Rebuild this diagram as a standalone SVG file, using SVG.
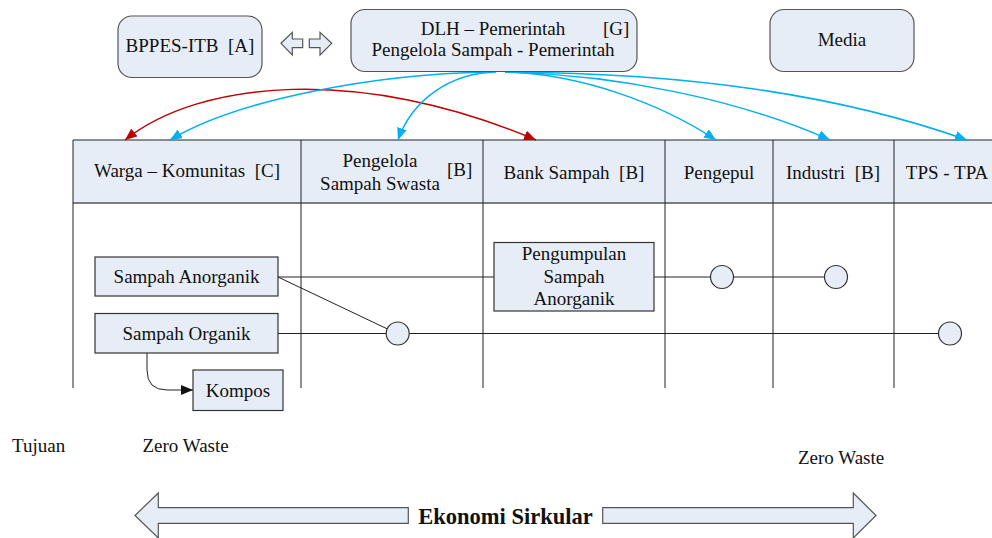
<svg xmlns="http://www.w3.org/2000/svg" width="992" height="538" viewBox="0 0 992 538">
<style>
text{font-family:"Liberation Serif","Times New Roman",serif;font-size:19px;fill:#111;white-space:pre;}
.c{text-anchor:middle;}
.box{fill:#e7edf7;stroke:#333;stroke-width:1.2;}
.rbox{fill:#e7edf7;stroke:#555;stroke-width:1.2;}
.ln{fill:none;stroke:#222;stroke-width:1;}
.blue{fill:none;stroke:#00b0f0;stroke-width:1.5;marker-end:url(#ab);}
.red{fill:none;stroke:#c00000;stroke-width:1.5;}
.hdr{fill:#e7edf7;}
.grid{stroke:#222;stroke-width:1;}
.circ{fill:#e7edf7;stroke:#333;stroke-width:1.2;}
</style>
<defs>
<marker id="ab" viewBox="0 0 12 10" refX="12" refY="5" markerWidth="12" markerHeight="10" markerUnits="userSpaceOnUse" orient="auto"><path d="M0,0 L12,5 L0,10 Z" fill="#00b0f0"/></marker>
<marker id="ar" viewBox="0 0 12 10" refX="12" refY="5" markerWidth="12" markerHeight="10" markerUnits="userSpaceOnUse" orient="auto"><path d="M0,0 L12,5 L0,10 Z" fill="#c00000"/></marker>
<marker id="ars" viewBox="0 0 12 10" refX="0" refY="5" markerWidth="12" markerHeight="10" markerUnits="userSpaceOnUse" orient="auto"><path d="M12,0 L0,5 L12,10 Z" fill="#c00000"/></marker>
<marker id="ak" viewBox="0 0 12 10" refX="12" refY="5" markerWidth="12" markerHeight="10" markerUnits="userSpaceOnUse" orient="auto"><path d="M0,0 L12,5 L0,10 Z" fill="#111"/></marker>
</defs>

<!-- swimlane table -->
<g id="table">
<rect class="hdr" x="73" y="140" width="919" height="63"/>
<line class="grid" x1="73" y1="140" x2="992" y2="140"/>
<line x1="73" y1="203" x2="992" y2="203" stroke="#555" stroke-width="1.5"/>
<line class="grid" x1="73" y1="140" x2="73" y2="388"/>
<line class="grid" x1="301" y1="140" x2="301" y2="388"/>
<line class="grid" x1="483" y1="140" x2="483" y2="388"/>
<line class="grid" x1="665" y1="140" x2="665" y2="388"/>
<line class="grid" x1="773" y1="140" x2="773" y2="388"/>
<line class="grid" x1="894" y1="140" x2="894" y2="388"/>
</g>
<g id="lane-warga"><text class="c" x="187" y="177" xml:space="preserve">Warga – Komunitas  [C]</text></g>
<g id="lane-swasta">
<text class="c" x="380" y="167">Pengelola</text>
<text class="c" x="380" y="190">Sampah Swasta</text>
<text x="447" y="176">[B]</text>
</g>
<g id="lane-bank"><text class="c" x="574" y="179" xml:space="preserve">Bank Sampah  [B]</text></g>
<g id="lane-pengepul"><text class="c" x="719" y="179">Pengepul</text></g>
<g id="lane-industri"><text class="c" x="833" y="179" xml:space="preserve">Industri  [B]</text></g>
<g id="lane-tps"><text class="c" x="947" y="179">TPS - TPA</text></g>

<!-- connectors -->
<g id="connectors">
<path class="red" d="M125,140 C200,80 360,65 536,140" marker-start="url(#ars)" marker-end="url(#ar)"/>
<path class="blue" d="M487,72 C380,74 240,98 170,140"/>
<path class="blue" d="M496,72 C450,73 412,100 398,140"/>
<path class="blue" d="M505,72 C580,74 660,103 716,140"/>
<path class="blue" d="M505,72 C620,75 740,100 830,140"/>
<path class="blue" d="M505,72 C690,73 840,95 967,140"/>
<line class="ln" x1="278" y1="277" x2="494" y2="277"/>
<line class="ln" x1="654" y1="277" x2="710.5" y2="277"/>
<line class="ln" x1="733.5" y1="277" x2="824.5" y2="277"/>
<line class="ln" x1="278" y1="277" x2="387.5" y2="329"/>
<line class="ln" x1="278" y1="333.5" x2="386" y2="333.5"/>
<line class="ln" x1="409.5" y1="333.5" x2="938.5" y2="333.5"/>
<path class="ln" d="M147,353 L147,370 Q147,390 167,390 L193,390" marker-end="url(#ak)"/>
</g>

<!-- top nodes -->
<g id="bppes">
<rect class="rbox" x="118" y="16" width="144" height="61.5" rx="14"/>
<text class="c" x="190" y="52" xml:space="preserve">BPPES-ITB  [A]</text>
</g>
<g id="bidir">
<path class="rbox" d="M281,43.3 L292.3,32.3 L292.3,39 L302.7,39 L302.7,47.7 L292.3,47.7 L292.3,55 Z"/>
<path class="rbox" d="M331.7,43.3 L320,32.3 L320,39 L309.3,39 L309.3,47.7 L320,47.7 L320,55 Z"/>
</g>
<g id="dlh">
<rect class="rbox" x="351" y="9.5" width="286" height="62" rx="14"/>
<text class="c" x="493" y="35">DLH – Pemerintah</text>
<text x="603" y="35">[G]</text>
<text class="c" x="493" y="56">Pengelola Sampah - Pemerintah</text>
</g>
<g id="media">
<rect class="rbox" x="770" y="9.5" width="144" height="62" rx="14"/>
<text class="c" x="842" y="46">Media</text>
</g>

<!-- body nodes -->
<g id="anorganik">
<rect class="box" x="95" y="257" width="183" height="39"/>
<text class="c" x="186.5" y="283">Sampah Anorganik</text>
</g>
<g id="organik">
<rect class="box" x="95" y="313.5" width="183" height="39.5"/>
<text class="c" x="186.5" y="340">Sampah Organik</text>
</g>
<g id="kompos">
<rect class="box" x="193" y="370" width="90" height="40.5"/>
<text class="c" x="238" y="397">Kompos</text>
</g>
<g id="pengumpulan">
<rect class="box" x="494" y="242.5" width="160" height="68.5"/>
<text class="c" x="574" y="259.5">Pengumpulan</text>
<text class="c" x="574" y="283">Sampah</text>
<text class="c" x="574" y="305">Anorganik</text>
</g>
<g id="circle-swasta"><circle class="circ" cx="397.7" cy="333.5" r="11.5"/></g>
<g id="circle-pengepul"><circle class="circ" cx="722" cy="277" r="11.5"/></g>
<g id="circle-industri"><circle class="circ" cx="836" cy="277" r="11.5"/></g>
<g id="circle-tps"><circle class="circ" cx="950" cy="333.5" r="11.5"/></g>

<!-- bottom labels -->
<g id="tujuan"><text x="12" y="452">Tujuan</text></g>
<g id="zw1"><text x="142.5" y="452">Zero Waste</text></g>
<g id="zw2"><text x="798" y="464">Zero Waste</text></g>
<g id="ekonomi">
<path class="rbox" d="M135,515.5 L158.3,493 L158.3,507.7 L408.3,507.7 L408.3,523.3 L158.3,523.3 L158.3,538 Z"/>
<path class="rbox" d="M876,515.5 L853.3,493 L853.3,507.7 L602.7,507.7 L602.7,523.3 L853.3,523.3 L853.3,538 Z"/>
<text class="c" x="505.5" y="523.5" style="font-weight:bold;font-size:22.5px">Ekonomi Sirkular</text>
</g>
</svg>
